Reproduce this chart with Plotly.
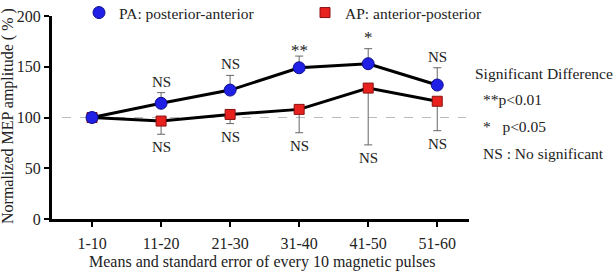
import plotly.graph_objects as go

categories = ["1-10", "11-20", "21-30", "31-40", "41-50", "51-60"]
pa_values = [100, 114, 127, 149, 153, 132]
pa_err_up = [0, 10.5, 14.5, 11.5, 14.8, 17]
ap_values = [100, 96.5, 103, 108, 129, 116]
ap_err_down = [0, 13, 9, 23, 56, 29]
pa_labels = ["", "NS", "NS", "**", "*", "NS"]
ap_labels = ["", "NS", "NS", "NS", "NS", "NS"]
y_ticks = [0, 50, 100, 150, 200]

FONT = "Liberation Serif"
TXT = "#222222"
xs = list(range(len(categories)))

fig = go.Figure()
# connecting lines (no legend)
for vals in (ap_values, pa_values):
    fig.add_trace(go.Scatter(x=xs, y=vals, mode="lines", showlegend=False, hoverinfo="skip",
                             line=dict(color="black", width=3)))
fig.add_trace(go.Scatter(
    x=xs, y=ap_values, mode="markers", name="AP: anterior-posterior", legend="legend2",
    marker=dict(symbol="square", size=10, color="#e8201e", line=dict(color="#8a1010", width=1)),
    error_y=dict(type="data", symmetric=False, array=[0]*len(ap_values), arrayminus=ap_err_down,
                 color="#666666", thickness=1, width=4),
))
fig.add_trace(go.Scatter(
    x=xs, y=pa_values, mode="markers", name="PA: posterior-anterior", legend="legend",
    marker=dict(symbol="circle", size=12, color="#1f1fe6", line=dict(color="#10108a", width=1)),
    error_y=dict(type="data", symmetric=False, array=pa_err_up, arrayminus=[0]*len(pa_values),
                 color="#666666", thickness=1, width=4),
))

shift_top = {"NS": 1, "**": -6, "*": 0}
ann = []
for i, lab in enumerate(pa_labels):
    if lab:
        ann.append(dict(x=i, y=pa_values[i] + pa_err_up[i], text=lab, showarrow=False,
                        yanchor="bottom", yshift=shift_top[lab],
                        font=dict(family=FONT, size=15 if lab == "NS" else 17, color=TXT)))
for i, lab in enumerate(ap_labels):
    if lab:
        ann.append(dict(x=i, y=ap_values[i] - ap_err_down[i], text=lab, showarrow=False,
                        yanchor="top", yshift=-3,
                        font=dict(family=FONT, size=15, color=TXT)))

# right-side key
key_lines = [("Significant Difference", 473, 73), ("**p<0.01", 481, 99),
             ("*   p<0.05", 481, 126), ("NS : No significant", 481, 153)]
for txt, px, py in key_lines:
    ann.append(dict(xref="paper", yref="paper", x=(px - 52) / 417, y=1 - (py - 16) / 203,
                    text=txt, showarrow=False, xanchor="left", yanchor="middle",
                    font=dict(family=FONT, size=15.5, color=TXT)))

# axis titles
ann.append(dict(xref="paper", yref="paper", x=(8 - 52) / 417, y=1 - (116 - 16) / 203,
                text="Normalized MEP amplitude ( % )", textangle=-90, showarrow=False,
                xanchor="center", yanchor="middle", font=dict(family=FONT, size=16, color=TXT)))
ann.append(dict(xref="paper", yref="paper", x=(262 - 52) / 417, y=-(262 - 219) / 203,
                text="Means and standard error of every 10 magnetic pulses", showarrow=False,
                xanchor="center", yanchor="middle", font=dict(family=FONT, size=16, color=TXT)))

leg_common = dict(orientation="h", xanchor="left", yanchor="middle", y=1 + 3 / 203,
                  font=dict(family=FONT, size=15.5, color=TXT), bgcolor="rgba(0,0,0,0)")

fig.update_layout(
    width=613, height=271,
    margin=dict(l=52, r=144, t=16, b=52, autoexpand=False),
    paper_bgcolor="white", plot_bgcolor="white",
    font=dict(family=FONT, size=15, color=TXT),
    showlegend=True,
    legend=dict(x=(79 - 52) / 417, **leg_common),
    legend2=dict(x=(305 - 52) / 417, **leg_common),
    annotations=ann,
    shapes=[dict(type="line", xref="paper", yref="y", x0=(62 - 52) / 417, x1=(466 - 52) / 417,
                 y0=100, y1=100, line=dict(color="#bbbbbb", width=1.2, dash="dash"), layer="below")],
)
fig.update_xaxes(range=[-0.58, 5.46], tickvals=xs, ticktext=categories, showline=True,
                 linecolor="black", linewidth=3, ticks="outside", ticklen=5, tickwidth=2,
                 tickcolor="black", showgrid=False, zeroline=False, ticklabelstandoff=3,
                 tickfont=dict(family=FONT, size=16, color=TXT))
fig.update_yaxes(range=[0, 200], tickvals=y_ticks, showline=True, linecolor="black", linewidth=3,
                 ticks="outside", ticklen=5, tickwidth=2, tickcolor="black", showgrid=False,
                 zeroline=False, tickfont=dict(family=FONT, size=16, color=TXT))

fig.write_html("out.html")
